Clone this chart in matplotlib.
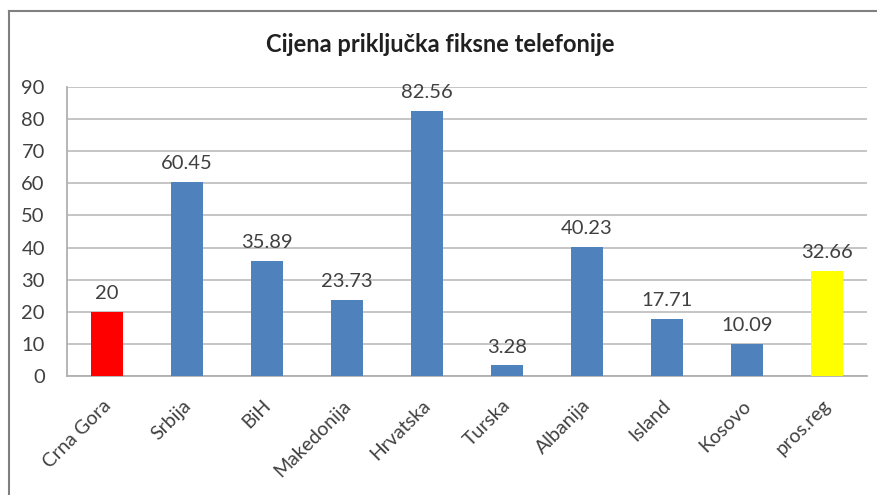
import matplotlib
matplotlib.use("Agg")
import matplotlib.pyplot as plt
from matplotlib.lines import Line2D
from matplotlib.transforms import ScaledTranslation

plt.rcParams['font.family'] = ['Lato', 'DejaVu Sans']

zemlje = ['Crna Gora', 'Srbija', 'BiH', 'Makedonija', 'Hrvatska', 'Turska',
          'Albanija', 'Island', 'Kosovo', 'pros.reg']
cijene = [20, 60.45, 35.89, 23.73, 82.56, 3.28, 40.23, 17.71, 10.09, 32.66]
boje = ['#FF0000'] + ['#4F81BD'] * 8 + ['#FFFF00']

fig = plt.figure(figsize=(8.78, 4.95), dpi=100)
ax = fig.add_axes([67 / 878, 1 - 376 / 495, 800 / 878, 289 / 495])

x = range(len(zemlje))
ax.bar(x, cijene, width=0.4, color=boje, zorder=3)

for i, v in enumerate(cijene):
    lab = str(int(v)) if v == int(v) else '%.2f' % v
    ax.annotate(lab, (i, v), xytext=(0, 7), textcoords='offset points',
                ha='center', va='bottom', fontsize=14.5, color='#404040', zorder=4)

ax.set_xlim(-0.5, len(zemlje) - 0.5)
ax.set_ylim(0, 90)
ax.set_yticks(range(0, 91, 10))
ax.set_xticks(list(x))
ax.set_xticklabels(zemlje, rotation=45, ha='right', va='top', rotation_mode='anchor')
ax.tick_params(axis='x', length=0, pad=15, labelsize=14, labelcolor='#404040')
ax.tick_params(axis='y', length=0, pad=16, labelsize=14.5, labelcolor='#404040')
pomak = ScaledTranslation(-5 / 100, 0, fig.dpi_scale_trans)
for lab in ax.get_xticklabels():
    lab.set_transform(lab.get_transform() + pomak)

ax.grid(axis='y', color='#C0C0C0', linewidth=1.3, zorder=0)
for s in ['top', 'right']:
    ax.spines[s].set_visible(False)
for s in ['left', 'bottom']:
    ax.spines[s].set_color('#B0B0B0')
    ax.spines[s].set_linewidth(1.3)

fig.text(440 / 878, 1 - 45 / 495, 'Cijena priključka fiksne telefonije',
         ha='center', va='center', fontsize=17, fontweight='bold', color='#202020')

# okvir grafikona
fig.add_artist(Line2D([9 / 878, 1], [1 - 11 / 495, 1 - 11 / 495], color='#808080', lw=1.5))
fig.add_artist(Line2D([9 / 878, 9 / 878], [0, 1 - 11 / 495], color='#808080', lw=1.5))

fig.savefig('out.png', dpi=100, facecolor='white')
